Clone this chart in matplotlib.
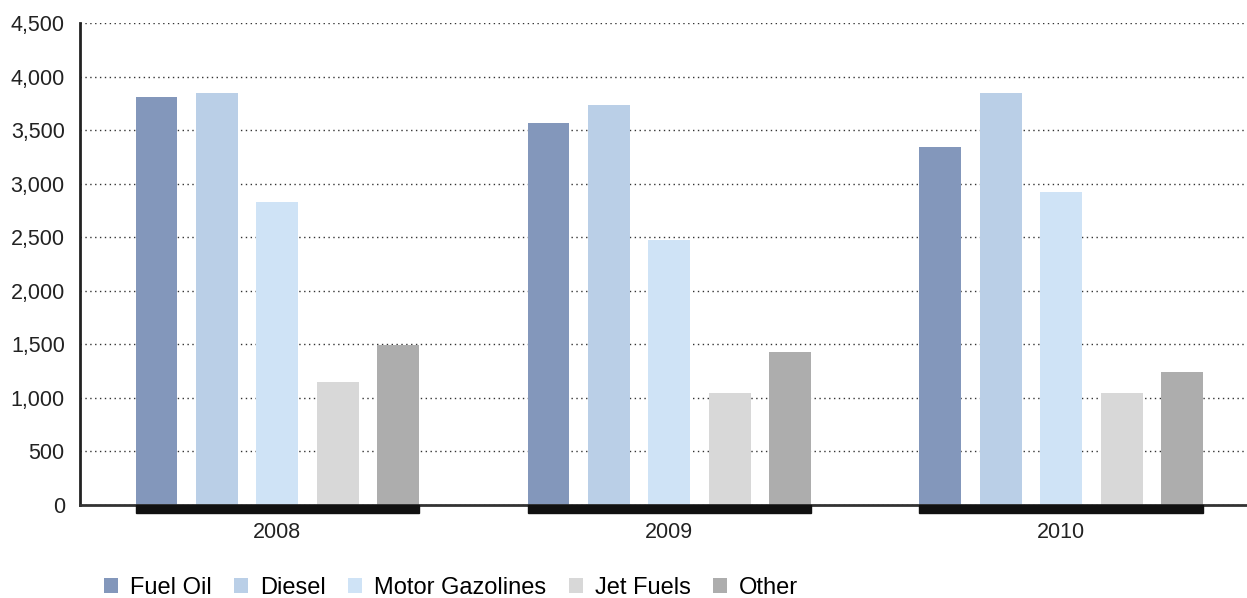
import numpy as np
import matplotlib.pyplot as plt
from matplotlib.patches import Rectangle
import matplotlib.transforms as mtransforms
from matplotlib.ticker import FuncFormatter

plt.rcParams['font.family'] = ['Liberation Sans', 'DejaVu Sans']

years = ['2008', '2009', '2010']
fuels = ['Fuel Oil', 'Diesel', 'Motor Gazolines', 'Jet Fuels', 'Other']
fuel_oil = [3810, 3570, 3340]
diesel = [3850, 3730, 3850]
motor_gas = [2830, 2475, 2920]
jet_fuels = [1150, 1050, 1050]
other = [1490, 1430, 1240]
colors = ['#8397BB', '#BACFE7', '#CFE3F6', '#D8D8D8', '#ADADAD']

series = [fuel_oil, diesel, motor_gas, jet_fuels, other]

fig = plt.figure(figsize=(12.47, 5.98), dpi=100)
ax = fig.add_axes([0.0642, 0.1555, 0.9358, 0.806])

x = np.arange(len(years))
width = 0.107
step = 0.154
for i, (vals, name, c) in enumerate(zip(series, fuels, colors)):
    ax.bar(x + (i - 2) * step, vals, width, color=c, label=name, zorder=2)

# thick black band under each year group
trans = mtransforms.blended_transform_factory(ax.transData, ax.transAxes)
for xi in x:
    left = xi - 2 * step - width / 2
    right = xi + 2 * step + width / 2
    ax.add_patch(Rectangle((left, -0.0166), right - left, 0.0166, transform=trans,
                           color='#111111', clip_on=False, zorder=3))

ax.set_ylim(0, 4500)
ax.set_xlim(-0.503, 2.474)
ax.set_yticks(np.arange(0, 4501, 500))
ax.yaxis.set_major_formatter(FuncFormatter(lambda v, p: f'{int(v):,}'))
ax.yaxis.grid(True, linestyle=(0, (1, 2.5)), color='#333333', linewidth=1.0, zorder=0)
ax.set_axisbelow(True)

ax.set_xticks(x)
ax.set_xticklabels(years)
ax.tick_params(axis='both', length=0, labelsize=15.5, colors='#222222')
ax.tick_params(axis='x', pad=12)
ax.tick_params(axis='y', pad=11)

ax.spines['top'].set_visible(False)
ax.spines['right'].set_visible(False)
ax.spines['left'].set_linewidth(2)
ax.spines['left'].set_color('#222222')
ax.spines['bottom'].set_linewidth(2)
ax.spines['bottom'].set_color('#333333')

fig.legend(loc='center left', bbox_to_anchor=(0.0834, 0.017), ncol=5, frameon=False,
           fontsize=17, handlelength=0.6, handleheight=0.6, handletextpad=0.5,
           columnspacing=0.95, borderaxespad=0, borderpad=0)

fig.savefig('out.png', dpi=100)
